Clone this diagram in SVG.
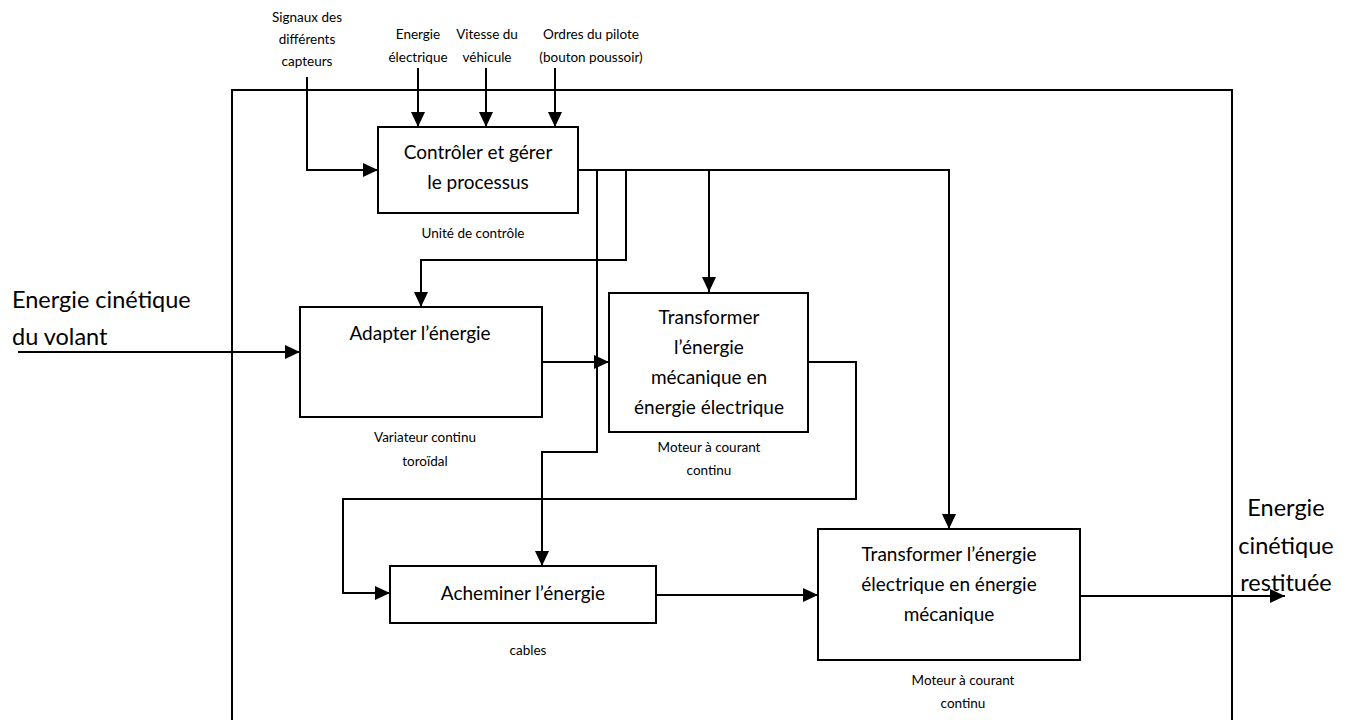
<svg xmlns="http://www.w3.org/2000/svg" width="1349" height="720" viewBox="0 0 1349 720">
<style>
.box{fill:#fff;stroke:#000;stroke-width:2}
.ln{fill:none;stroke:#000;stroke-width:2}
.arr{fill:none;stroke:#000;stroke-width:2;marker-end:url(#ah)}
text{font-family:Lato,"Open Sans","Liberation Sans",sans-serif;fill:#000;text-anchor:middle}
.big{font-size:19px}
.sm{font-size:13.5px}
.side{font-size:23.5px}
</style>
<defs>
<marker id="ah" markerUnits="userSpaceOnUse" markerWidth="16" markerHeight="14" refX="15" refY="7" orient="auto">
<path d="M0,0 L15,7 L0,14 z" fill="#000"/>
</marker>
</defs>
<rect width="1349" height="720" fill="#fff"/>
<path class="ln" d="M232,722 V90 H1232 V722" stroke-width="1.6"/>
<g id="connectors">
<path class="arr" d="M307,77 V170 H378"/>
<path class="arr" d="M418,68 V127"/>
<path class="arr" d="M486,68 V127"/>
<path class="arr" d="M555,68 V127"/>
<path class="arr" d="M578,170 H949 V529"/>
<path class="arr" d="M709,170 V292"/>
<path class="arr" d="M626,170 V260 H421 V307"/>
<path class="arr" d="M597,170 V452 H542 V566"/>
<path class="arr" d="M542,362 H609"/>
<path class="arr" d="M808,362 H856 V499 H343 V593 H390"/>
<path class="arr" d="M656,595 H818"/>
<path class="arr" d="M18,352 H300"/>
<path class="arr" d="M1080,596 H1285"/>
</g>
<g id="inputs">
<text class="sm" x="307" y="22">Signaux des</text>
<text class="sm" x="307" y="44">différents</text>
<text class="sm" x="307" y="66">capteurs</text>
<text class="sm" x="418" y="39">Energie</text>
<text class="sm" x="418" y="62">électrique</text>
<text class="sm" x="487" y="39">Vitesse du</text>
<text class="sm" x="487" y="62">véhicule</text>
<text class="sm" x="591" y="39">Ordres du pilote</text>
<text class="sm" x="591" y="62">(bouton poussoir)</text>
</g>
<g id="controle">
<rect class="box" x="378" y="127" width="200" height="86"/>
<text class="big" x="478" y="159">Contrôler et gérer</text>
<text class="big" x="478" y="189">le processus</text>
<text class="sm" x="473" y="238">Unité de contrôle</text>
</g>
<g id="adapter">
<rect class="box" x="300" y="307" width="242" height="110"/>
<text class="big" x="420" y="340">Adapter l’énergie</text>
<text class="sm" x="425" y="442">Variateur continu</text>
<text class="sm" x="425" y="466">toroïdal</text>
</g>
<g id="transformer-meca">
<rect class="box" x="609" y="293" width="199" height="139"/>
<text class="big" x="709" y="324">Transformer</text>
<text class="big" x="709" y="354">l’énergie</text>
<text class="big" x="709" y="384">mécanique en</text>
<text class="big" x="709" y="414">énergie électrique</text>
<text class="sm" x="709" y="452">Moteur à courant</text>
<text class="sm" x="709" y="475">continu</text>
</g>
<g id="acheminer">
<rect class="box" x="390" y="566" width="266" height="57"/>
<text class="big" x="523" y="600">Acheminer l’énergie</text>
<text class="sm" x="528" y="655">cables</text>
</g>
<g id="transformer-elec">
<rect class="box" x="818" y="529" width="262" height="131"/>
<text class="big" x="949" y="561">Transformer l’énergie</text>
<text class="big" x="949" y="591">électrique en énergie</text>
<text class="big" x="949" y="621">mécanique</text>
<text class="sm" x="963" y="685">Moteur à courant</text>
<text class="sm" x="963" y="708">continu</text>
</g>
<g id="entree">
<text class="side" x="12" y="308" style="text-anchor:start">Energie cinétique</text>
<text class="side" x="12" y="345" style="text-anchor:start">du volant</text>
</g>
<g id="sortie">
<text class="side" x="1286" y="516">Energie</text>
<text class="side" x="1286" y="554">cinétique</text>
<text class="side" x="1286" y="591">restituée</text>
</g>
</svg>
